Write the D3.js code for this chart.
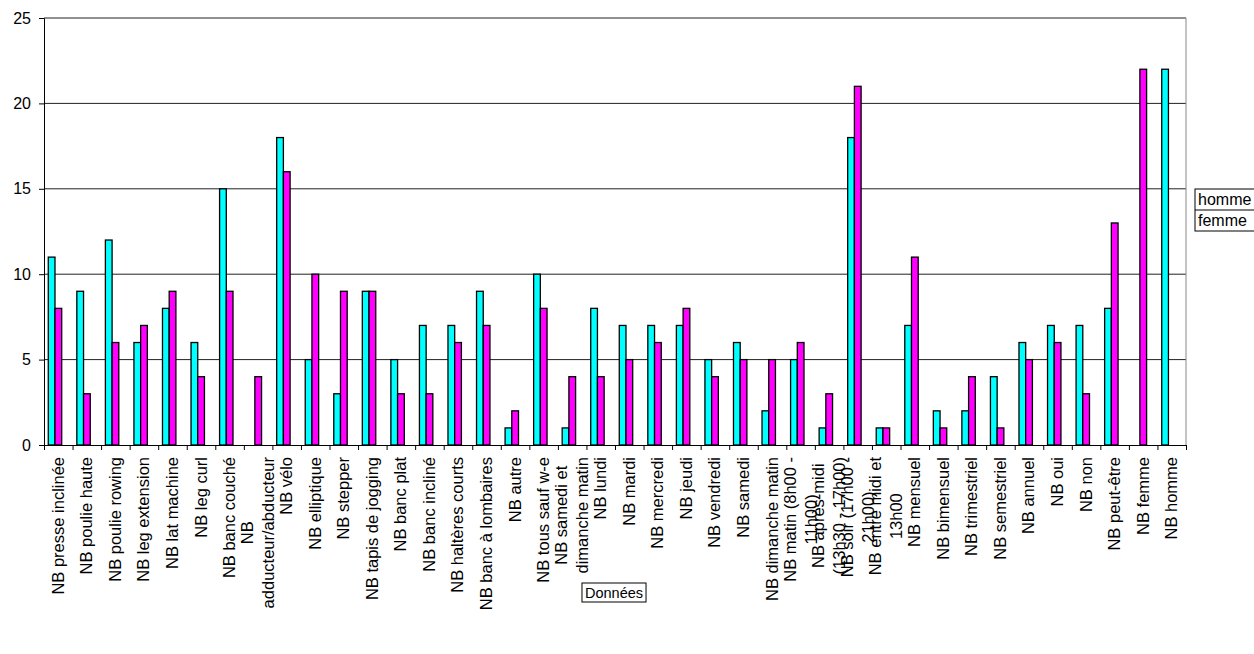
<!DOCTYPE html>
<html><head><meta charset="utf-8">
<script src="https://cdn.jsdelivr.net/npm/d3@7"></script>
<style>body{margin:0;background:#fff}svg{display:block}text{font-family:"Liberation Sans",Arial,sans-serif}</style>
</head><body>
<svg id="c" width="1254" height="654"></svg>
<script>
const categories = ["NB presse inclinée","NB poulie haute","NB poulie rowing","NB leg extension","NB lat machine","NB leg curl","NB banc couché","NB\nadducteur/abducteur","NB vélo","NB elliptique","NB stepper","NB tapis de jogging","NB banc plat","NB banc incliné","NB haltères courts","NB banc à lombaires","NB autre","NB tous sauf w-e","NB samedi et\ndimanche matin","NB lundi","NB mardi","NB mercredi","NB jeudi","NB vendredi","NB samedi","NB dimanche matin","NB matin (8h00 -\n11h00)","NB après-midi\n(13h30 - 17h00)","NB soir (17h00 -\n21h00)","NB entre midi et\n13h00","NB mensuel","NB bimensuel","NB trimestriel","NB semestriel","NB annuel","NB oui","NB non","NB peut-être","NB femme","NB homme"];
const homme = [11,9,12,6,8,6,15,0,18,5,3,9,5,7,7,9,1,10,1,8,7,7,7,5,6,2,5,1,18,1,7,2,2,4,6,7,7,8,0,22];
const femme = [8,3,6,7,9,4,9,4,16,10,9,9,3,3,6,7,2,8,4,4,5,6,8,4,5,5,6,3,21,1,11,1,4,1,5,6,3,13,22,0];
const seriesNames = ["homme","femme"];
const yTicks = [0,5,10,15,20,25];
const colors = ["#00FFFF","#FF00FF"];

const svg = d3.select("#c");
const L=44, R=1186, T=18, B=445;
const x = d3.scaleBand().domain(categories).range([L,R]).padding(0);
const xi = d3.scaleLinear().domain([0,categories.length]).range([L,R]);
const y = d3.scaleLinear().domain([0,25]).range([B,T]);
const bw = x.bandwidth();

// gridlines
svg.append("g").selectAll("line").data(yTicks.filter(d=>d>0)).join("line")
  .attr("x1",L).attr("x2",R).attr("y1",d=>y(d)).attr("y2",d=>y(d))
  .attr("stroke","#222").attr("stroke-width",1);
// right border
svg.append("line").attr("x1",R).attr("x2",R).attr("y1",T).attr("y2",B).attr("stroke","#888");

// bars
const series=[homme,femme];
series.forEach((vals,si)=>{
  svg.append("g").selectAll("rect").data(categories.map((c,i)=>({c,v:vals[i]})).filter(d=>d.v>0)).join("rect")
    .attr("x",d=>x(d.c)+bw*0.15+si*bw*0.235)
    .attr("width",bw*0.235)
    .attr("y",d=>y(d.v)).attr("height",d=>B-y(d.v))
    .attr("fill",colors[si]).attr("stroke","#000").attr("stroke-width",1.3);
});

// y axis
const ya = svg.append("g").attr("transform",`translate(${L},0)`)
  .call(d3.axisLeft(y).tickValues(yTicks).tickSize(5).tickPadding(8).tickFormat(d3.format("d")));
ya.select(".domain").attr("stroke","#000");
ya.selectAll("line").attr("stroke","#000");
ya.selectAll("text").attr("font-size","16px").attr("fill","#000").style("font-family","Liberation Sans, Arial");

// x axis
const xa = svg.append("g").attr("transform",`translate(0,${B})`)
  .call(d3.axisBottom(xi).tickValues(d3.range(categories.length+1)).tickSize(5).tickFormat(""));
xa.select(".domain").attr("stroke","#000");
xa.selectAll("line").attr("stroke","#000");

// category labels
const lineH=21;
categories.forEach(c=>{
  const lines=c.split("\n");
  const cx=x(c)+bw/2;
  const g=svg.append("g").attr("transform",`translate(${cx},457) rotate(-90)`);
  const ts=lines.map((ln,i)=>g.append("text").text(ln).attr("font-size","16.5px").attr("fill","#000")
      .attr("y",5.5+(i-(lines.length-1)/2)*lineH));
  const maxW=d3.max(ts,t=>t.node().getComputedTextLength());
  ts.forEach(t=>t.attr("text-anchor","middle").attr("x",-maxW/2));
});

// axis title box
const tg=svg.append("g");
const tt=tg.append("text").text("Données").attr("x",614).attr("y",598).attr("text-anchor","middle").attr("font-size","14.5px");
const tw=tt.node().getComputedTextLength();
tg.insert("rect","text").attr("x",614-tw/2-3).attr("y",583).attr("width",tw+6).attr("height",19).attr("fill","#fff").attr("stroke","#000");

// legend
const lg=svg.append("g");
lg.append("rect").attr("x",1195).attr("y",189).attr("width",80).attr("height",42).attr("fill","#fff").attr("stroke","#000");
lg.append("line").attr("x1",1195).attr("x2",1275).attr("y1",210).attr("y2",210).attr("stroke","#000");
seriesNames.forEach((s,i)=>lg.append("text").text(s).attr("x",1198).attr("y",205+i*21).attr("font-size","16px"));
</script>
</body></html>
